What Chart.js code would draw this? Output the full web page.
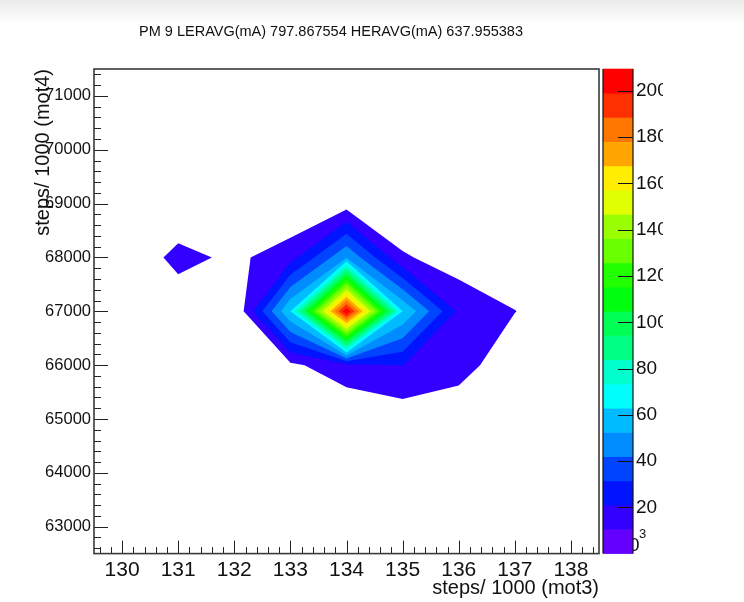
<!DOCTYPE html>
<html>
<head>
<meta charset="utf-8">
<script src="https://cdn.jsdelivr.net/npm/chart.js@4/dist/chart.umd.min.js"></script>
<style>
  html, body { margin: 0; padding: 0; }
  body { background: linear-gradient(#ebebeb 0px, #f5f5f5 12px, #ffffff 24px) no-repeat; background-color: #fff; }
  #wrap { width: 744px; height: 602px; position: relative; }
  canvas { display: block; }
</style>
</head>
<body>
<div id="wrap"><canvas id="c" width="744" height="602"></canvas></div>
<script>
// Scan grid: mot3 position (steps/1000) and mot4 position (steps)
const MOT3 = [130, 131, 132, 133, 134, 135, 136, 137, 138];
const MOT4 = [63000, 64000, 65000, 66000, 67000, 68000, 69000, 70000, 71000];

// PM 9 signal at each grid point, one row per mot4 step, columns follow MOT3
const ROW_63000 = [0, 0,    0, 0,    0,     0,    0,    0,    0];
const ROW_64000 = [0, 0,    0, 0,    0,     0,    0,    0,    0];
const ROW_65000 = [0, 0,    0, 0,    0,     4.3,  0,    0,    0];
const ROW_66000 = [0, 0,    0, 8.0,  17.8,  21.0, 16.9, 0,    0];
const ROW_67000 = [0, 2.3,  0, 62.9, 209.5, 62.9, 18.6, 10.8, 0];
const ROW_68000 = [0, 14.2, 8, 16.5, 51.8,  11.9, 4.8,  0,    0];
const ROW_69000 = [0, 0,    0, 0,    5.4,   0,    0,    0,    0];
const ROW_70000 = [0, 0,    0, 0,    0,     0,    0,    0,    0];
const ROW_71000 = [0, 0,    0, 0,    0,     0,    0,    0,    0];

// Axis tick labels
const X_TICKS = [130, 131, 132, 133, 134, 135, 136, 137, 138];
const Y_TICKS = [63000, 64000, 65000, 66000, 67000, 68000, 69000, 70000, 71000];
const Z_TICKS = [20, 40, 60, 80, 100, 120, 140, 160, 180, 200];

// Colour scale: 20 contour levels from 0 to the maximum
const Z_MIN = 0;
const Z_MAX = 209.5;
const N_LEVELS = 20;
const PALETTE = [
  '#6300ff', '#3300ff', '#0014ff', '#0044ff', '#008bff',
  '#00bbff', '#00fffc', '#00ffcc', '#00ff85', '#00ff55',
  '#00ff0e', '#22ff00', '#69ff00', '#99ff00', '#e0ff00',
  '#ffee00', '#ffa700', '#ff7700', '#ff3000', '#ff0000'
];

const TITLE = 'PM 9 LERAVG(mA) 797.867554 HERAVG(mA) 637.955383';
const FONT = '"Liberation Sans", Arial, Helvetica, sans-serif';

const GRID = [ROW_63000, ROW_64000, ROW_65000, ROW_66000, ROW_67000,
              ROW_68000, ROW_69000, ROW_70000, ROW_71000];

// Filled contours: each level paints the part of every grid cell where the
// linearly interpolated signal is at or above that level.
const contourPlugin = {
  id: 'contourFill',
  beforeDatasetsDraw(chart) {
    const { ctx, chartArea: a, scales } = chart;
    const sx = scales.x, sy = scales.y;
    const dz = (Z_MAX - Z_MIN) / N_LEVELS;
    ctx.save();
    ctx.beginPath();
    ctx.rect(a.left, a.top, a.right - a.left, a.bottom - a.top);
    ctx.clip();
    for (let k = 1; k < N_LEVELS; k++) {
      const level = Z_MIN + k * dz;
      ctx.beginPath();
      for (let r = 0; r < MOT4.length - 1; r++) {
        for (let c = 0; c < MOT3.length - 1; c++) {
          const corners = [[c, r], [c + 1, r], [c + 1, r + 1], [c, r + 1]];
          const pts = [];
          for (let i = 0; i < 4; i++) {
            const [c0, r0] = corners[i];
            const [c1, r1] = corners[(i + 1) % 4];
            const z0 = GRID[r0][c0], z1 = GRID[r1][c1];
            const in0 = z0 >= level, in1 = z1 >= level;
            if (in0) pts.push([MOT3[c0], MOT4[r0]]);
            if (in0 !== in1) {
              const t = (level - z0) / (z1 - z0);
              pts.push([MOT3[c0] + t * (MOT3[c1] - MOT3[c0]),
                        MOT4[r0] + t * (MOT4[r1] - MOT4[r0])]);
            }
          }
          if (pts.length >= 3) {
            pts.forEach(([vx, vy], i) => {
              const px = sx.getPixelForValue(vx), py = sy.getPixelForValue(vy);
              if (i === 0) ctx.moveTo(px, py); else ctx.lineTo(px, py);
            });
            ctx.closePath();
          }
        }
      }
      ctx.fillStyle = PALETTE[k];
      ctx.fill('nonzero');
    }
    ctx.restore();
  }
};

// Frame, inward tick marks, colour bar and title.
const framePlugin = {
  id: 'frameAndPalette',
  afterDraw(chart) {
    const { ctx, chartArea: a, scales } = chart;
    const sx = scales.x, sy = scales.y, sz = scales.z;
    ctx.save();

    // minor / major ticks (5 subdivisions per labelled step)
    ctx.strokeStyle = '#222';
    ctx.lineWidth = 1;
    ctx.beginPath();
    const xStep = (X_TICKS[1] - X_TICKS[0]) / 5;
    for (let t = Math.ceil(sx.min / xStep); t * xStep <= sx.max; t++) {
      const v = t * xStep;
      const major = Math.abs(v - Math.round(v / (xStep * 5)) * xStep * 5) < 1e-6;
      const px = Math.round(sx.getPixelForValue(v)) + 0.5;
      ctx.moveTo(px, a.bottom);
      ctx.lineTo(px, a.bottom - (major ? 13 : 6.5));
    }
    const yStep = (Y_TICKS[1] - Y_TICKS[0]) / 5;
    for (let t = Math.ceil(sy.min / yStep); t * yStep <= sy.max; t++) {
      const v = t * yStep;
      const major = v % (yStep * 5) === 0;
      const py = Math.round(sy.getPixelForValue(v)) + 0.5;
      ctx.moveTo(a.left, py);
      ctx.lineTo(a.left + (major ? 14 : 7), py);
    }
    ctx.stroke();

    // frame
    ctx.strokeStyle = '#3a3a3a';
    ctx.lineWidth = 1.6;
    ctx.strokeRect(a.left, a.top, a.right - a.left, a.bottom - a.top);

    // colour bar
    const barL = a.right + 4, barR = a.right + 34;
    ctx.fillStyle = '#111';
    ctx.font = '19px ' + FONT;
    ctx.textAlign = 'left';
    ctx.textBaseline = 'middle';
    ctx.fillText('0', barR - 4, sz.getPixelForValue(Z_MIN) - 8);
    const dz = (Z_MAX - Z_MIN) / N_LEVELS;
    for (let k = 0; k < N_LEVELS; k++) {
      const top = sz.getPixelForValue(Z_MIN + (k + 1) * dz);
      const bot = sz.getPixelForValue(Z_MIN + k * dz);
      ctx.fillStyle = PALETTE[k];
      ctx.fillRect(barL, top - 0.3, barR - barL, bot - top + 0.6);
    }
    ctx.strokeStyle = '#111';
    ctx.lineWidth = 1.2;
    ctx.beginPath();
    ctx.moveTo(barL, a.top); ctx.lineTo(barL, a.bottom);
    ctx.moveTo(barR, a.top); ctx.lineTo(barR, a.bottom);
    Z_TICKS.forEach(v => {
      const py = Math.round(sz.getPixelForValue(v)) + 0.5;
      ctx.moveTo(barR, py);
      ctx.lineTo(barR - 15, py);
    });
    ctx.stroke();
    ctx.fillStyle = '#111';
    ctx.font = '13px ' + FONT;
    ctx.fillText('3', barR + 6, sz.getPixelForValue(Z_MIN) - 19);

    // the drawing ends at the canvas edge on the right
    ctx.fillStyle = '#ffffff';
    ctx.fillRect(663, 60, 744 - 663, 520);

    // title
    ctx.fillStyle = '#111';
    ctx.font = '14.5px ' + FONT;
    ctx.textAlign = 'center';
    ctx.textBaseline = 'middle';
    ctx.fillText(TITLE, 331, 32);
    ctx.restore();
  }
};

const tickFont = (size) => ({ family: FONT, size: size });

new Chart(document.getElementById('c'), {
  type: 'scatter',
  data: { datasets: [] },
  options: {
    responsive: false,
    animation: false,
    devicePixelRatio: 1,
    layout: { padding: { top: 69, left: 0, right: 0, bottom: 0 } },
    plugins: {
      legend: { display: false },
      tooltip: { enabled: false },
      title: { display: false }
    },
    scales: {
      x: {
        type: 'linear',
        position: 'bottom',
        min: 129.5,
        max: 138.5,
        afterBuildTicks: (s) => { s.ticks = X_TICKS.map(v => ({ value: v })); },
        afterFit: (s) => { s.height = 47; },
        grid: { display: false, drawTicks: false },
        border: { display: false },
        ticks: {
          font: tickFont(21), color: '#111', padding: 4,
          maxRotation: 0, autoSkip: false,
          callback: (v) => String(v)
        },
        title: {
          display: true, text: 'steps/ 1000 (mot3)', align: 'end',
          font: tickFont(20), color: '#111', padding: { top: 0, bottom: 0 }
        }
      },
      y: {
        type: 'linear',
        position: 'left',
        min: 62500,
        max: 71500,
        afterBuildTicks: (s) => { s.ticks = Y_TICKS.map(v => ({ value: v })); },
        afterFit: (s) => { s.width = 94; },
        grid: { display: false, drawTicks: false },
        border: { display: false },
        ticks: {
          font: tickFont(16.5), color: '#111', padding: 3,
          autoSkip: false,
          callback: (v) => String(v)
        },
        title: {
          display: true, text: 'steps/ 1000 (mot4)', align: 'end',
          font: tickFont(20), color: '#111', padding: { top: 31, bottom: 0 }
        }
      },
      z: {
        type: 'linear',
        position: 'right',
        min: Z_MIN,
        max: Z_MAX,
        afterBuildTicks: (s) => { s.ticks = Z_TICKS.map(v => ({ value: v })); },
        afterFit: (s) => { s.width = 145; },
        grid: { display: false, drawTicks: false },
        border: { display: false },
        ticks: {
          font: tickFont(19), color: '#111', padding: 37,
          autoSkip: false,
          callback: (v) => String(v)
        }
      }
    }
  },
  plugins: [contourPlugin, framePlugin]
});
</script>
</body>
</html>
